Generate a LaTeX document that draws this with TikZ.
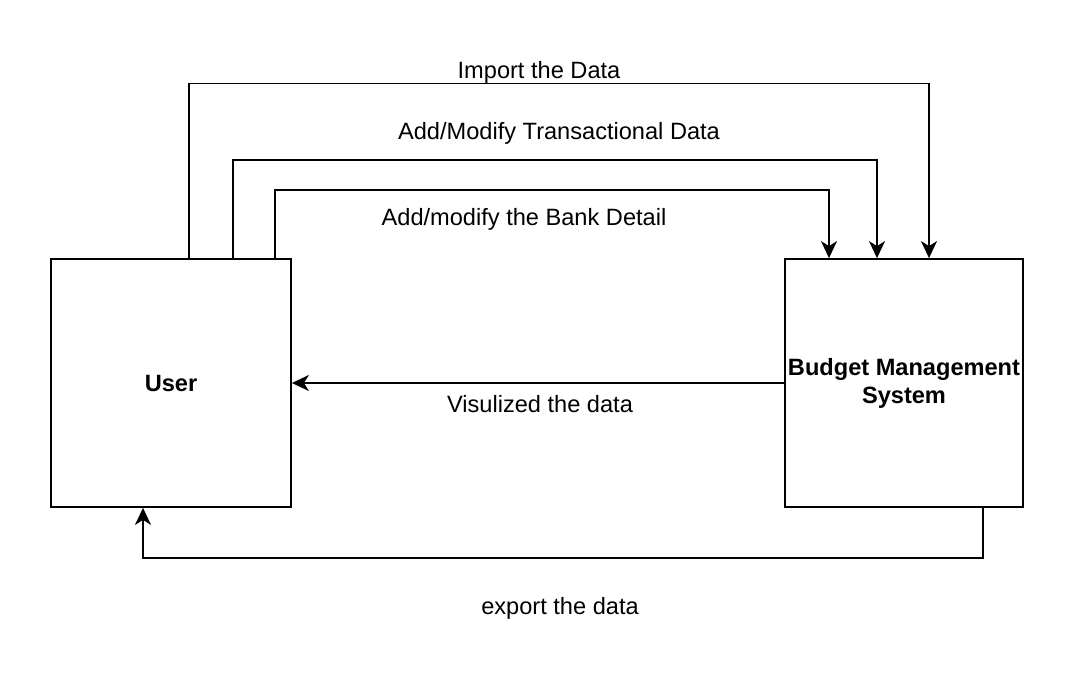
\documentclass[tikz,border=0pt]{standalone}
\usepackage{fontspec}
\setmainfont{Liberation Sans}
\usetikzlibrary{arrows.meta}
\begin{document}
\begin{tikzpicture}[x=1pt,y=-1pt,
  box/.style={draw=black, line width=1.8pt, rectangle, inner sep=0pt, align=center, font=\fontsize{23.6}{28}\selectfont\bfseries},
  lbl/.style={inner sep=0pt, font=\fontsize{23.6}{28}\selectfont},
  arr/.style={draw=black, line width=1.8pt, -{Stealth[length=17pt,width=16pt,inset=5pt]}},
  wire/.style={draw=black, line width=1.8pt}]
\path[use as bounding box, fill=white] (0,0) rectangle (1074,674);
\node[box, minimum width=240pt, minimum height=248pt] (user) at (171,383) {User};
\node[box, minimum width=238pt, minimum height=248pt] (bms) at (904,383) {Budget Management\\System};
\draw[arr] ([xshift=18pt]user.north) -- ++(0,-174.5) -| ([xshift=25pt]bms.north);
\draw[arr] ([xshift=62pt]user.north) -- ++(0,-98) -| ([xshift=-27pt]bms.north);
\draw[arr] ([xshift=104pt]user.north) -- ++(0,-68) -| ([xshift=-75pt]bms.north);
\draw[arr] (bms.west) -- (user.east);
\draw[arr] ([xshift=79pt]bms.south) -- ++(0,50) -| ([xshift=-28pt]user.south);
\node[lbl] (limp) at (539,72) {Import the Data};
\node[lbl] (ltr) at (559,133) {Add/Modify Transactional Data};
\node[lbl] (lbank) at (524,219) {Add/modify the Bank Detail};
\node[lbl] (lvis) at (540,404) {Visulized the data};
\node[lbl] (lexp) at (560,608) {export the data};
\end{tikzpicture}
\end{document}
